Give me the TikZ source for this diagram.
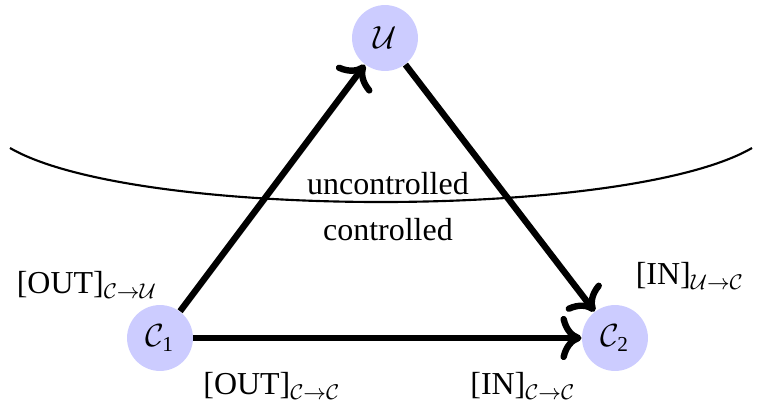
\documentclass[tikz,border=0pt]{standalone}
\usepackage{amsmath,amssymb}
\usepackage{fontspec}
\setmainfont{Liberation Serif}
\usepackage{tikz}
\usetikzlibrary{arrows.meta,calc,positioning}
\definecolor{NodeLilac}{HTML}{CCCCFF}

\begin{document}
\begin{tikzpicture}[x=0.0132cm,y=-0.0132cm,
    agent/.style={circle,fill=NodeLilac,minimum size=0.87cm,inner sep=0pt,font=\fontsize{12}{14}\selectfont},
    flow/.style={-{To[scale=1.15]},line width=2.4pt},
    lbl/.style={font=\fontsize{12}{14}\selectfont}]
      \useasboundingbox (0,0) rectangle (759,413);
      \node[agent] (U) at (385,38) {$\mathcal{U}$};
      \node[agent] (C1) at (160,338) {$\mathcal{C}_{\text{1}}$};
      \node[agent] (C2) at (615,338) {$\mathcal{C}_{\text{2}}$};
      \draw[line width=0.8pt] (10,148) .. controls (134,220) and (628,220) .. (752,148);
      \node[lbl] (unc) at (388,184) {uncontrolled};
      \node[lbl] (con) at (388,230) {controlled};
      \draw[flow] (C1) -- (U);
      \draw[flow] (U) -- (C2);
      \draw[flow] (C1) -- (C2);
      \node[lbl] (outCU) at (87,285) {[OUT]$_{\mathcal{C}\to\mathcal{U}}$};
      \node[lbl] (inUC) at (690,276) {[IN]$_{\mathcal{U}\to\mathcal{C}}$};
      \node[lbl] (outCC) at (272,386) {[OUT]$_{\mathcal{C}\to\mathcal{C}}$};
      \node[lbl] (inCC) at (523,386) {[IN]$_{\mathcal{C}\to\mathcal{C}}$};
    \end{tikzpicture}
\end{document}
